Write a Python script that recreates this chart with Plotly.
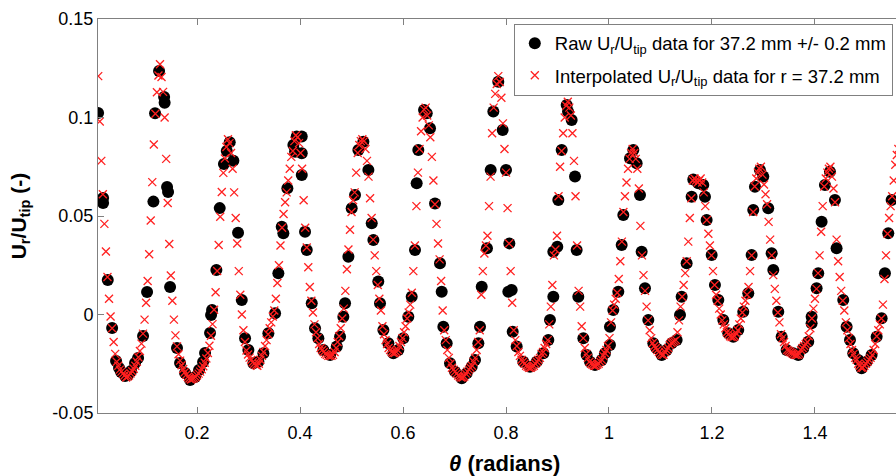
import plotly.graph_objects as go

# ---------------- data ----------------
raw_theta = [
    0.0078, 0.0175, 0.0175, 0.0266, 0.0350, 0.0427, 0.0485, 0.0524, 0.0602, 0.0660,
    0.0718, 0.0796, 0.0854, 0.0951, 0.1029, 0.1152, 0.1184, 0.1262, 0.1360, 0.1370,
    0.1417, 0.1437, 0.1476, 0.1610, 0.1670, 0.1767, 0.1864, 0.1961, 0.2039, 0.2117,
    0.2155, 0.2252, 0.2272, 0.2291, 0.2375, 0.2440, 0.2522, 0.2577, 0.2634, 0.2705,
    0.2796, 0.2868, 0.2932, 0.2997, 0.3094, 0.3191, 0.3288, 0.3385, 0.3515, 0.3579,
    0.3644, 0.3676, 0.3754, 0.3870, 0.3935, 0.3903, 0.4033, 0.4033, 0.4033, 0.4097,
    0.4130, 0.4227, 0.4291, 0.4356, 0.4453, 0.4583, 0.4713, 0.4777, 0.4841, 0.4874,
    0.4939, 0.5003, 0.5068, 0.5133, 0.5230, 0.5327, 0.5392, 0.5424, 0.5520, 0.5553,
    0.5618, 0.5715, 0.5812, 0.5909, 0.6006, 0.6103, 0.6168, 0.6233, 0.6265, 0.6297,
    0.6408, 0.6460, 0.6524, 0.6621, 0.6718, 0.6751, 0.6783, 0.6848, 0.6913, 0.7010,
    0.7140, 0.7236, 0.7333, 0.7398, 0.7463, 0.7495, 0.7528, 0.7630, 0.7702, 0.7754,
    0.7850, 0.7935, 0.8000, 0.8045, 0.8065, 0.8110, 0.8130, 0.8207, 0.8336, 0.8466,
    0.8596, 0.8725, 0.8822, 0.8854, 0.8919, 0.8919, 0.8996, 0.9016, 0.9081, 0.9178,
    0.9204, 0.9275, 0.9340, 0.9372, 0.9404, 0.9502, 0.9566, 0.9631, 0.9728, 0.9858,
    0.9922, 1.0019, 1.0019, 1.0084, 1.0181, 1.0246, 1.0278, 1.0408, 1.0472, 1.0537,
    1.0602, 1.0634, 1.0699, 1.0764, 1.0861, 1.0926, 1.1023, 1.1120, 1.1217, 1.1314,
    1.1379, 1.1411, 1.1508, 1.1605, 1.1637, 1.1734, 1.1831, 1.1864, 1.1896, 1.1994,
    1.2058, 1.2123, 1.2220, 1.2317, 1.2414, 1.2511, 1.2608, 1.2705, 1.2770, 1.2802,
    1.2835, 1.2932, 1.2996, 1.3093, 1.3159, 1.3191, 1.3288, 1.3353, 1.3450, 1.3579,
    1.3676, 1.3773, 1.3870, 1.3935, 1.3935, 1.4032, 1.4064, 1.4129, 1.4194, 1.4291,
    1.4388, 1.4420, 1.4550, 1.4615, 1.4680, 1.4744, 1.4841, 1.4906, 1.5003, 1.5100,
    1.5198, 1.5295, 1.5359, 1.5424, 1.5489,
]
raw_u = [
    0.1023, 0.0591, 0.0566, 0.0175, -0.0069, -0.0236, -0.0272, -0.0292, -0.0312, -0.0307,
    -0.0287, -0.0246, -0.0221, -0.0109, 0.0114, 0.0573, 0.1021, 0.1236, 0.1104, 0.1075,
    0.0647, 0.0622, 0.0140, -0.0170, -0.0246, -0.0297, -0.0332, -0.0317, -0.0282, -0.0241,
    -0.0195, -0.0094, -0.0003, 0.0023, 0.0226, 0.0540, 0.0764, 0.0830, 0.0875, 0.0780,
    0.0415, 0.0074, -0.0121, -0.0180, -0.0248, -0.0240, -0.0197, -0.0095, 0.0006, 0.0209,
    0.0446, 0.0412, 0.0641, 0.0860, 0.0903, 0.0826, 0.0903, 0.0818, 0.0708, 0.0420,
    0.0327, 0.0057, -0.0070, -0.0121, -0.0180, -0.0206, -0.0163, -0.0113, -0.0011, 0.0057,
    0.0293, 0.0539, 0.0607, 0.0835, 0.0877, 0.0734, 0.0463, 0.0378, 0.0167, 0.0057,
    -0.0079, -0.0146, -0.0197, -0.0180, -0.0121, -0.0011, 0.0090, 0.0327, 0.0666, 0.0835,
    0.1038, 0.1021, 0.0945, 0.0564, 0.0260, 0.0116, -0.0062, -0.0146, -0.0248, -0.0290,
    -0.0324, -0.0298, -0.0265, -0.0231, -0.0146, -0.0062, 0.0141, 0.0336, 0.0734, 0.1030,
    0.1182, 0.0937, 0.0734, 0.0116, 0.0361, 0.0124, -0.0087, -0.0163, -0.0240, -0.0265,
    -0.0240, -0.0197, -0.0129, -0.0028, 0.0090, 0.0319, 0.0344, 0.0581, 0.0835, 0.1063,
    0.1030, 0.0987, 0.0700, 0.0327, 0.0090, -0.0121, -0.0206, -0.0240, -0.0256, -0.0231,
    -0.0197, -0.0155, -0.0062, 0.0023, 0.0116, 0.0353, 0.0505, 0.0793, 0.0835, 0.0768,
    0.0607, 0.0319, 0.0133, -0.0028, -0.0146, -0.0172, -0.0206, -0.0180, -0.0146, -0.0129,
    -0.0003, 0.0090, 0.0260, 0.0598, 0.0685, 0.0666, 0.0657, 0.0598, 0.0480, 0.0302,
    0.0150, 0.0074, -0.0028, -0.0095, -0.0113, -0.0079, 0.0014, 0.0108, 0.0302, 0.0530,
    0.0649, 0.0734, 0.0700, 0.0539, 0.0311, 0.0226, 0.0014, -0.0113, -0.0180, -0.0197,
    -0.0206, -0.0172, -0.0138, -0.0045, -0.0011, 0.0133, 0.0209, 0.0471, 0.0657, 0.0725,
    0.0581, 0.0336, 0.0074, -0.0062, -0.0129, -0.0197, -0.0231, -0.0273, -0.0240, -0.0206,
    -0.0113, -0.0019, 0.0209, 0.0412, 0.0581,
]

interp_theta_start = 0.008
interp_theta_step = 0.003
interp_u = [
    0.121, 0.098, 0.078, 0.061, 0.046, 0.032, 0.019, 0.008, -0.001, -0.007,
    -0.014, -0.020, -0.024, -0.026, -0.028, -0.029, -0.030, -0.031, -0.032,
    -0.0315, -0.0309, -0.0299, -0.0288, -0.0275, -0.026, -0.024, -0.0217, -0.0185, -0.0148,
    -0.0097, -0.0026, 0.006, 0.017, 0.0306, 0.0477, 0.0672, 0.0863, 0.1019, 0.1128,
    0.1213, 0.127,
    0.1206, 0.113, 0.100, 0.079, 0.0566, 0.0358, 0.0198, 0.007, -0.0026, -0.0106,
    -0.0162, -0.0202, -0.0234, -0.0258, -0.0277, -0.0293, -0.0306, -0.0317, -0.0325, -0.033,
    -0.0326, -0.0323, -0.0317, -0.0308, -0.030, -0.029, -0.0278, -0.0263, -0.0245, -0.0223,
    -0.0195, -0.0159, -0.0108, -0.0049, 0.0024, 0.0113, 0.0221, 0.0353, 0.0496, 0.0622,
    0.0719, 0.0792, 0.085, 0.089,
    0.087, 0.082, 0.074, 0.062, 0.049, 0.036, 0.022, 0.010, 0.000, -0.008,
    -0.014, -0.0183, -0.0203, -0.0219, -0.0231, -0.0242, -0.025, -0.0257, -0.026,
    -0.025, -0.023, -0.021, -0.019, -0.016, -0.013, -0.010, -0.007, -0.004, -0.001,
    0.002, 0.008, 0.016, 0.025, 0.035, 0.044, 0.051, 0.057, 0.062, 0.068,
    0.074, 0.080, 0.083, 0.088, 0.091,
    0.090, 0.087, 0.082, 0.074, 0.058, 0.044, 0.034, 0.024, 0.014, 0.007,
    0.001, -0.005, -0.009, -0.012, -0.015, -0.017, -0.018, -0.019, -0.020, -0.0205,
    -0.021, -0.021,
    -0.021, -0.0205, -0.019, -0.017, -0.014, -0.011, -0.007, -0.002, 0.003, 0.012,
    0.023, 0.033, 0.043, 0.052, 0.058, 0.062, 0.072, 0.082, 0.086, 0.088, 0.089,
    0.088, 0.084, 0.078, 0.070, 0.059, 0.049, 0.038, 0.030, 0.022, 0.015,
    0.008, 0.002, -0.006, -0.010, -0.013, -0.015, -0.017, -0.018, -0.019, -0.0195,
    -0.0195, -0.019, -0.018, -0.016, -0.014, -0.012,
    -0.009, -0.006, -0.002, 0.001, 0.005, 0.011, 0.022, 0.035, 0.055, 0.072,
    0.084, 0.093, 0.100, 0.104, 0.105, 0.101,
    0.096, 0.090, 0.080, 0.068, 0.056, 0.046, 0.036, 0.028, 0.017, 0.002,
    -0.008, -0.013, -0.018, -0.022, -0.025, -0.027, -0.028, -0.029, -0.030, -0.031,
    -0.0315, -0.032, -0.032, -0.0315, -0.030, -0.029, -0.028, -0.027, -0.026, -0.024,
    -0.022,
    -0.018, -0.014, -0.008, 0.010, 0.022, 0.031, 0.035, 0.040, 0.055, 0.070,
    0.092, 0.105, 0.112, 0.117, 0.121, 0.118,
    0.110, 0.097, 0.084, 0.072, 0.054, 0.036, 0.022, 0.006, -0.008, -0.013,
    -0.016, -0.019, -0.021, -0.023, -0.024, -0.025, -0.026, -0.0265, -0.027, -0.027,
    -0.0265, -0.026, -0.025, -0.024, -0.023, -0.022, -0.020, -0.019, -0.017, -0.015,
    -0.013,
    -0.005, 0.004, 0.015, 0.030, 0.033, 0.040, 0.060, 0.075, 0.083, 0.092,
    0.100, 0.106, 0.108,
    0.105, 0.101, 0.092, 0.078, 0.060, 0.035, 0.012, 0.004, -0.006, -0.012,
    -0.017, -0.020, -0.022, -0.024, -0.025, -0.0255, -0.026, -0.026, -0.0255, -0.025,
    -0.024, -0.023, -0.021, -0.0195, -0.018, -0.016, -0.012, -0.004, 0.002, 0.005,
    0.008, 0.011, 0.018, 0.027, 0.037, 0.052, 0.060, 0.067, 0.074, 0.079,
    0.082, 0.084,
    0.082, 0.079, 0.074, 0.064, 0.045, 0.030, 0.020, 0.012, 0.004, -0.003,
    -0.008, -0.012, -0.0145, -0.016, -0.017, -0.018, -0.019, -0.020, -0.0205, -0.0205,
    -0.019, -0.018, -0.017, -0.0155, -0.0145, -0.014, -0.0135, -0.013, -0.009, -0.003,
    0.004, 0.009, 0.015, 0.021, 0.027, 0.037, 0.049, 0.059, 0.068, 0.069,
    0.068, 0.067, 0.068, 0.069,
    0.067, 0.062, 0.055, 0.048, 0.041, 0.035, 0.030, 0.022, 0.015, 0.010,
    0.007, 0.003, 0.000, -0.003, -0.005, -0.007, -0.009, -0.010, -0.011, -0.0115,
    -0.0115, -0.011, -0.0095, -0.008, -0.005, -0.002, 0.001, 0.004, 0.007, 0.010,
    0.014, 0.022, 0.030, 0.052, 0.065, 0.069, 0.072, 0.074, 0.075,
    0.071, 0.066, 0.061, 0.056, 0.047, 0.038, 0.030, 0.020, 0.013, 0.007,
    0.001, -0.004, -0.010, -0.012, -0.014, -0.016, -0.018, -0.0185, -0.019, -0.0195,
    -0.020, -0.0205, -0.0205, -0.0205, -0.020, -0.018, -0.017, -0.016, -0.015, -0.014,
    -0.011, -0.007, -0.002, 0.003, 0.008, 0.013, 0.021, 0.030, 0.042, 0.055,
    0.065, 0.069, 0.072, 0.074, 0.075,
    0.070, 0.064, 0.057, 0.038, 0.027, 0.019, 0.012, 0.007, 0.002, -0.004,
    -0.008, -0.012, -0.015, -0.018, -0.020, -0.022, -0.023, -0.025, -0.026, -0.027,
    -0.027, -0.026, -0.025, -0.024, -0.023, -0.022, -0.0205, -0.018, -0.015, -0.011,
    -0.008, -0.005, -0.002, 0.005, 0.018, 0.030, 0.041, 0.049, 0.055, 0.060,
    0.068, 0.076, 0.081, 0.084,
]
interp_theta = [interp_theta_start + interp_theta_step * i for i in range(len(interp_u))]

x_tick_vals = [0.2, 0.4, 0.6, 0.8, 1.0, 1.2, 1.4, 1.6]
x_tick_text = ["0.2", "0.4", "0.6", "0.8", "1", "1.2", "1.4", "1.6"]
y_tick_vals = [-0.05, 0.0, 0.05, 0.1, 0.15]
y_tick_text = ["-0.05", "0", "0.05", "0.1", "0.15"]

raw_name = "Raw U<sub>r</sub>/U<sub>tip</sub> data for 37.2 mm +/- 0.2 mm"
interp_name = "Interpolated U<sub>r</sub>/U<sub>tip</sub> data for r = 37.2 mm"
x_title = "<b><i>θ</i> (radians)</b>"
y_title = "<b>U<sub>r</sub>/U<sub>tip</sub> (-)</b>"

# ---------------- figure ----------------
fig = go.Figure()
fig.add_trace(go.Scatter(
    x=raw_theta, y=raw_u, mode="markers", name=raw_name, legendgroup="raw",
    marker=dict(symbol="circle", size=12, color="black", line=dict(width=0)),
))
fig.add_trace(go.Scatter(
    x=interp_theta, y=interp_u, mode="markers", name=interp_name, legendgroup="interp",
    marker=dict(symbol="x-thin", size=8, color="#ff2020",
                line=dict(color="#ff2020", width=1.3)),
))

axis_grey = "#808080"
fig.update_layout(
    width=896, height=476,
    margin=dict(l=98, r=0, t=19, b=63),
    paper_bgcolor="white", plot_bgcolor="white",
    font=dict(family="Liberation Sans, Arial, sans-serif", size=18, color="black"),
    legend=dict(x=0.996, y=0.988, xanchor="right", yanchor="top",
                bgcolor="white", bordercolor=axis_grey, borderwidth=1,
                font=dict(size=18.5), itemsizing="trace",
                tracegroupgap=5),
    showlegend=True,
    annotations=[dict(
        text=x_title, xref="paper", yref="paper", x=0.51, y=-0.129,
        xanchor="center", yanchor="middle", showarrow=False,
        font=dict(size=22, color="black"),
    )],
)
fig.update_xaxes(
    range=[0.0076, 1.5574], tickmode="array", tickvals=x_tick_vals, ticktext=x_tick_text,
    ticks="inside", ticklen=6, tickcolor=axis_grey, showline=True, linecolor=axis_grey,
    linewidth=1, mirror="ticks", showgrid=False, zeroline=False,
    tickfont=dict(size=18), ticklabelstandoff=3,
)
fig.update_yaxes(
    range=[-0.05, 0.15], tickmode="array", tickvals=y_tick_vals, ticktext=y_tick_text,
    ticks="inside", ticklen=6, tickcolor=axis_grey, showline=True, linecolor=axis_grey,
    linewidth=1, mirror=False, showgrid=False, zeroline=False,
    tickfont=dict(size=18),
    title=dict(text=y_title, font=dict(size=21), standoff=20),
)

fig.write_html("out.html")
